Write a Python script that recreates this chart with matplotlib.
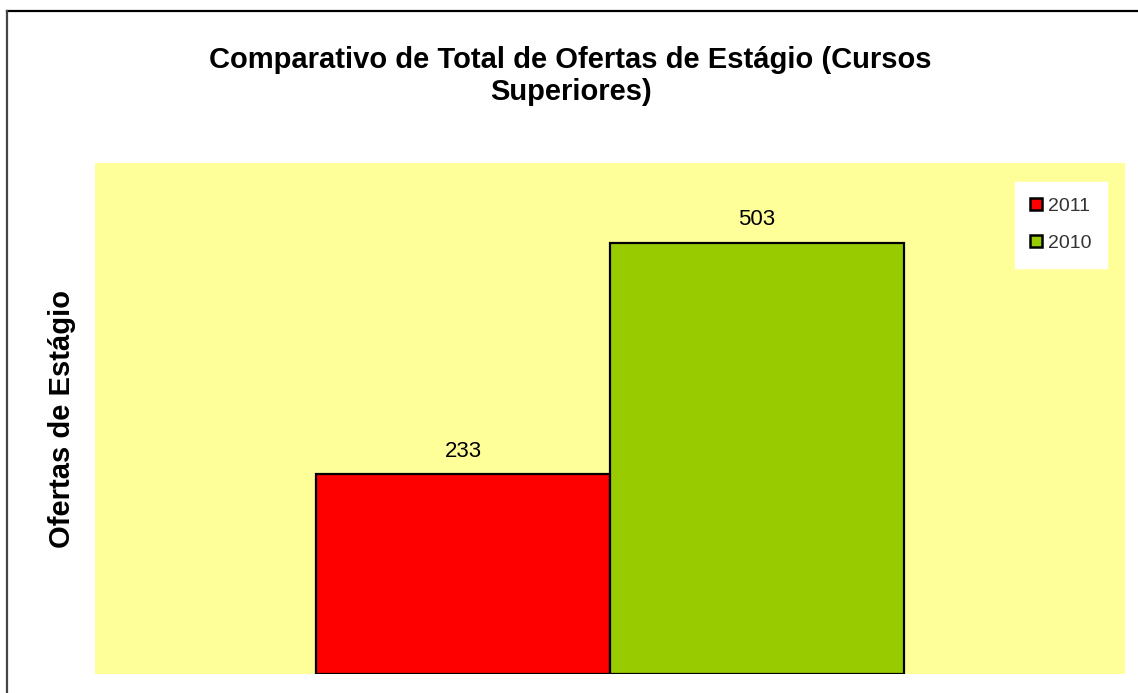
import matplotlib.pyplot as plt
from matplotlib.lines import Line2D

plt.rcParams['font.family'] = ['Liberation Sans', 'DejaVu Sans']

# Data
series = ['2011', '2010']
offers = [233, 503]
colors = ['#FF0000', '#99CC00']
title = 'Comparativo de Total de Ofertas de Estágio (Cursos\nSuperiores)'
ylabel = 'Ofertas de Estágio'

W, H = 1138, 693
fig = plt.figure(figsize=(W / 100, H / 100), dpi=100)
fig.patch.set_facecolor('white')

# Plot area in pixel terms
left, right, top, bottom = 95, 1125, 163, 674
ax = fig.add_axes([left / W, (H - bottom) / H, (right - left) / W, (bottom - top) / H])
ax.set_facecolor('#FFFF99')
for s in ax.spines.values():
    s.set_visible(False)

positions = [-0.5, 0.5]
bars = ax.bar(positions, offers, width=1.0, color=colors, edgecolor='black',
              linewidth=1.6, label=series, zorder=3)
ax.set_xlim(-1.752, 1.752)
ax.set_ylim(0, 596)
ax.set_xticks([])
ax.set_yticks([])

for b, v in zip(bars, offers):
    ax.annotate(f'{v}', (b.get_x() + b.get_width() / 2, v), xytext=(0, 9),
                textcoords='offset points', ha='center', va='bottom',
                fontsize=16, color='black')

ax.set_ylabel(ylabel, fontsize=21, fontweight='bold')
ax.yaxis.set_label_coords(-(left - 62) / (right - left), 0.5, transform=ax.transAxes)
ax.yaxis.label.set_va('center')

fig.text(0.5015, (H - 76) / H, title, ha='center', va='center', fontsize=21,
         fontweight='bold', linespacing=1.2)

handles = [plt.Rectangle((0, 0), 1, 1, facecolor=c, edgecolor='black', linewidth=1.8)
           for c in colors]
leg = ax.legend(handles, series, loc='upper right', bbox_to_anchor=((1107 - left) / (right - left), (bottom - 182) / (bottom - top)),
                frameon=True, fancybox=False, edgecolor='white', facecolor='white',
                framealpha=1, fontsize=14, handlelength=0.6, handleheight=0.6,
                handletextpad=0.3, labelspacing=1.05, borderpad=0.8, borderaxespad=0)
for t in leg.get_texts():
    t.set_color('#333333')

# Outer chart border (top and left edges)
fig.add_artist(Line2D([6.5 / W, 1], [1 - 10.5 / H, 1 - 10.5 / H], transform=fig.transFigure,
                      color='black', linewidth=1.6))
fig.add_artist(Line2D([6.5 / W, 6.5 / W], [0, 1 - 10.5 / H], transform=fig.transFigure,
                      color='#444444', linewidth=1.6))

fig.savefig('out.png', dpi=100)
